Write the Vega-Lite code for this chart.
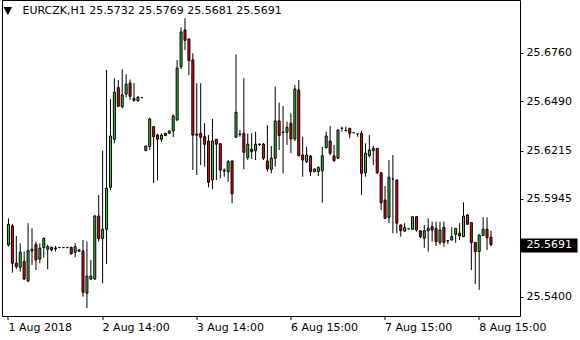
{
"$schema": "https://vega.github.io/schema/vega-lite/v6.json",
"width": 518, "height": 316,
"autosize": "none",
"padding": {"left": 2, "top": 0, "right": 60, "bottom": 24},
"background": "white",
"config": {"view": {"stroke": "black", "strokeWidth": 1}},
"title": {"text": "▼\u00a0\u00a0\u00a0EURCZK,H1\u00a025.5732 25.5769 25.5681 25.5691", "anchor": "start", "frame": "group", "orient": "top", "offset": 0, "dy": 25, "dx": 1.5, "baseline": "alphabetic", "font": "DejaVu Sans", "fontSize": 11, "fontWeight": "normal", "color": "black"},
"data": {"values": [
{"i":0,"o":25.5689,"h":25.5837,"l":25.5679,"c":25.5804},
{"i":1,"o":25.5795,"h":25.5806,"l":25.5534,"c":25.5587},
{"i":2,"o":25.5587,"h":25.5739,"l":25.5555,"c":25.5568},
{"i":3,"o":25.5564,"h":25.5698,"l":25.5540,"c":25.5648},
{"i":4,"o":25.5596,"h":25.5652,"l":25.5493,"c":25.5499},
{"i":5,"o":25.5487,"h":25.5810,"l":25.5484,"c":25.5657},
{"i":6,"o":25.5655,"h":25.5781,"l":25.5577,"c":25.5665},
{"i":7,"o":25.5692,"h":25.5707,"l":25.5549,"c":25.5605},
{"i":8,"o":25.5610,"h":25.5698,"l":25.5587,"c":25.5670},
{"i":9,"o":25.5674,"h":25.5731,"l":25.5618,"c":25.5725},
{"i":10,"o":25.5665,"h":25.5689,"l":25.5553,"c":25.5679},
{"i":11,"o":25.5676,"h":25.5678,"l":25.5652,"c":25.5661},
{"i":12,"o":25.5667,"h":25.5683,"l":25.5652,"c":25.5672},
{"i":13,"o":25.5674,"h":25.5674,"l":25.5674,"c":25.5674},
{"i":14,"o":25.5674,"h":25.5674,"l":25.5674,"c":25.5674},
{"i":15,"o":25.5674,"h":25.5674,"l":25.5674,"c":25.5674},
{"i":16,"o":25.5676,"h":25.5678,"l":25.5636,"c":25.5639},
{"i":17,"o":25.5648,"h":25.5698,"l":25.5620,"c":25.5679},
{"i":18,"o":25.5654,"h":25.5667,"l":25.5650,"c":25.5661},
{"i":19,"o":25.5655,"h":25.5716,"l":25.5400,"c":25.5425},
{"i":20,"o":25.5420,"h":25.5707,"l":25.5336,"c":25.5515},
{"i":21,"o":25.5499,"h":25.5605,"l":25.5493,"c":25.5515},
{"i":22,"o":25.5499,"h":25.5856,"l":25.5493,"c":25.5850},
{"i":23,"o":25.5850,"h":25.5967,"l":25.5707,"c":25.5725},
{"i":24,"o":25.5725,"h":25.6214,"l":25.5475,"c":25.5776},
{"i":25,"o":25.5776,"h":25.6664,"l":25.5583,"c":25.6005},
{"i":26,"o":25.6010,"h":25.6502,"l":25.5995,"c":25.6296},
{"i":27,"o":25.6278,"h":25.6618,"l":25.6255,"c":25.6540},
{"i":28,"o":25.6567,"h":25.6608,"l":25.6458,"c":25.6462},
{"i":29,"o":25.6460,"h":25.6668,"l":25.6450,"c":25.6525},
{"i":30,"o":25.6530,"h":25.6640,"l":25.6512,"c":25.6585},
{"i":31,"o":25.6591,"h":25.6611,"l":25.6497,"c":25.6517},
{"i":32,"o":25.6506,"h":25.6591,"l":25.6487,"c":25.6494},
{"i":33,"o":25.6493,"h":25.6519,"l":25.6487,"c":25.6512},
{"i":34,"o":25.6510,"h":25.6510,"l":25.6510,"c":25.6510},
{"i":35,"o":25.6214,"h":25.6243,"l":25.6212,"c":25.6240},
{"i":36,"o":25.6237,"h":25.6398,"l":25.6218,"c":25.6391},
{"i":37,"o":25.6348,"h":25.6352,"l":25.6034,"c":25.6292},
{"i":38,"o":25.6301,"h":25.6309,"l":25.6048,"c":25.6278},
{"i":39,"o":25.6278,"h":25.6311,"l":25.6264,"c":25.6301},
{"i":40,"o":25.6311,"h":25.6313,"l":25.6296,"c":25.6298},
{"i":41,"o":25.6311,"h":25.6327,"l":25.6310,"c":25.6324},
{"i":42,"o":25.6324,"h":25.6416,"l":25.6290,"c":25.6408},
{"i":43,"o":25.6385,"h":25.6720,"l":25.6380,"c":25.6675},
{"i":44,"o":25.6682,"h":25.6901,"l":25.6669,"c":25.6876},
{"i":45,"o":25.6887,"h":25.6952,"l":25.6775,"c":25.6829},
{"i":46,"o":25.6837,"h":25.6837,"l":25.6636,"c":25.6716},
{"i":47,"o":25.6720,"h":25.6757,"l":25.6106,"c":25.6301},
{"i":48,"o":25.6307,"h":25.6590,"l":25.6079,"c":25.6300},
{"i":49,"o":25.6311,"h":25.6590,"l":25.6134,"c":25.6289},
{"i":50,"o":25.6292,"h":25.6367,"l":25.6125,"c":25.6250},
{"i":51,"o":25.6268,"h":25.6301,"l":25.6010,"c":25.6038},
{"i":52,"o":25.6051,"h":25.6391,"l":25.5999,"c":25.6268},
{"i":53,"o":25.6278,"h":25.6279,"l":25.6051,"c":25.6250},
{"i":54,"o":25.6253,"h":25.6257,"l":25.6060,"c":25.6106},
{"i":55,"o":25.6105,"h":25.6116,"l":25.6069,"c":25.6101},
{"i":56,"o":25.6097,"h":25.6162,"l":25.6041,"c":25.6153},
{"i":57,"o":25.6157,"h":25.6159,"l":25.5921,"c":25.5973},
{"i":58,"o":25.6289,"h":25.6751,"l":25.6288,"c":25.6428},
{"i":59,"o":25.6307,"h":25.6329,"l":25.6292,"c":25.6304},
{"i":60,"o":25.6311,"h":25.6618,"l":25.6110,"c":25.6205},
{"i":61,"o":25.6175,"h":25.6311,"l":25.6162,"c":25.6250},
{"i":62,"o":25.6222,"h":25.6311,"l":25.6168,"c":25.6208},
{"i":63,"o":25.6214,"h":25.6320,"l":25.6162,"c":25.6250},
{"i":64,"o":25.6249,"h":25.6255,"l":25.6240,"c":25.6250},
{"i":65,"o":25.6251,"h":25.6257,"l":25.6162,"c":25.6172},
{"i":66,"o":25.6157,"h":25.6357,"l":25.6097,"c":25.6112},
{"i":67,"o":25.6110,"h":25.6240,"l":25.6088,"c":25.6172},
{"i":68,"o":25.6172,"h":25.6571,"l":25.6125,"c":25.6380},
{"i":69,"o":25.6380,"h":25.6482,"l":25.6218,"c":25.6298},
{"i":70,"o":25.6318,"h":25.6463,"l":25.6088,"c":25.6315},
{"i":71,"o":25.6317,"h":25.6376,"l":25.6246,"c":25.6344},
{"i":72,"o":25.6367,"h":25.6423,"l":25.6200,"c":25.6279},
{"i":73,"o":25.6279,"h":25.6580,"l":25.6268,"c":25.6558},
{"i":74,"o":25.6552,"h":25.6608,"l":25.6182,"c":25.6186},
{"i":75,"o":25.6190,"h":25.6292,"l":25.6069,"c":25.6162},
{"i":76,"o":25.6153,"h":25.6236,"l":25.6145,"c":25.6190},
{"i":77,"o":25.6184,"h":25.6190,"l":25.6073,"c":25.6097},
{"i":78,"o":25.6097,"h":25.6115,"l":25.6095,"c":25.6112},
{"i":79,"o":25.6097,"h":25.6126,"l":25.6073,"c":25.6121},
{"i":80,"o":25.6103,"h":25.6236,"l":25.5924,"c":25.6186},
{"i":81,"o":25.6231,"h":25.6320,"l":25.6227,"c":25.6296},
{"i":82,"o":25.6268,"h":25.6352,"l":25.6190,"c":25.6200},
{"i":83,"o":25.6184,"h":25.6246,"l":25.6153,"c":25.6158},
{"i":84,"o":25.6172,"h":25.6333,"l":25.6171,"c":25.6329},
{"i":85,"o":25.6338,"h":25.6348,"l":25.6320,"c":25.6339},
{"i":86,"o":25.6325,"h":25.6348,"l":25.6324,"c":25.6327},
{"i":87,"o":25.6339,"h":25.6341,"l":25.6283,"c":25.6311},
{"i":88,"o":25.6314,"h":25.6314,"l":25.6314,"c":25.6314},
{"i":89,"o":25.6307,"h":25.6308,"l":25.6292,"c":25.6307},
{"i":90,"o":25.6311,"h":25.6325,"l":25.5967,"c":25.6088},
{"i":91,"o":25.6091,"h":25.6255,"l":25.6069,"c":25.6200},
{"i":92,"o":25.6186,"h":25.6301,"l":25.6177,"c":25.6218},
{"i":93,"o":25.6214,"h":25.6240,"l":25.6134,"c":25.6227},
{"i":94,"o":25.6227,"h":25.6229,"l":25.6084,"c":25.6091},
{"i":95,"o":25.6091,"h":25.6095,"l":25.5883,"c":25.5924},
{"i":96,"o":25.5939,"h":25.6017,"l":25.5833,"c":25.5837},
{"i":97,"o":25.5843,"h":25.6162,"l":25.5810,"c":25.6066},
{"i":98,"o":25.6056,"h":25.6190,"l":25.5754,"c":25.6056},
{"i":99,"o":25.6051,"h":25.6053,"l":25.5754,"c":25.5810},
{"i":100,"o":25.5800,"h":25.5803,"l":25.5735,"c":25.5768},
{"i":101,"o":25.5766,"h":25.5810,"l":25.5763,"c":25.5785},
{"i":102,"o":25.5778,"h":25.5778,"l":25.5778,"c":25.5778},
{"i":103,"o":25.5776,"h":25.5847,"l":25.5775,"c":25.5846},
{"i":104,"o":25.5846,"h":25.5847,"l":25.5763,"c":25.5772},
{"i":105,"o":25.5768,"h":25.5769,"l":25.5726,"c":25.5735},
{"i":106,"o":25.5726,"h":25.5800,"l":25.5672,"c":25.5768},
{"i":107,"o":25.5768,"h":25.5837,"l":25.5652,"c":25.5781},
{"i":108,"o":25.5790,"h":25.5818,"l":25.5707,"c":25.5772},
{"i":109,"o":25.5781,"h":25.5818,"l":25.5683,"c":25.5707},
{"i":110,"o":25.5703,"h":25.5818,"l":25.5689,"c":25.5772},
{"i":111,"o":25.5787,"h":25.5818,"l":25.5679,"c":25.5703},
{"i":112,"o":25.5713,"h":25.5714,"l":25.5694,"c":25.5712},
{"i":113,"o":25.5716,"h":25.5787,"l":25.5714,"c":25.5735},
{"i":114,"o":25.5748,"h":25.5783,"l":25.5701,"c":25.5781},
{"i":115,"o":25.5754,"h":25.5810,"l":25.5716,"c":25.5739},
{"i":116,"o":25.5735,"h":25.5926,"l":25.5733,"c":25.5850},
{"i":117,"o":25.5856,"h":25.5859,"l":25.5803,"c":25.5804},
{"i":118,"o":25.5813,"h":25.5814,"l":25.5549,"c":25.5701},
{"i":119,"o":25.5703,"h":25.5705,"l":25.5471,"c":25.5652},
{"i":120,"o":25.5652,"h":25.5747,"l":25.5438,"c":25.5744},
{"i":121,"o":25.5741,"h":25.5843,"l":25.5739,"c":25.5776},
{"i":122,"o":25.5776,"h":25.5843,"l":25.5661,"c":25.5729},
{"i":123,"o":25.5732,"h":25.5769,"l":25.5681,"c":25.5691}
]},
"layer": [
{"mark": {"type": "rule", "color": "black", "strokeWidth": 1},
 "encoding": {
  "x": {"field": "i", "type": "quantitative", "scale": {"domain": [-0.375, 129.125], "nice": false, "zero": false},
        "axis": {"orient": "bottom", "values": [0, 24, 48, 72, 96, 120], "labelExpr": "datum.value < 10 ? '1 Aug 2018' : datum.value < 30 ? '2 Aug 14:00' : datum.value < 60 ? '3 Aug 14:00' : datum.value < 80 ? '6 Aug 15:00' : datum.value < 100 ? '7 Aug 15:00' : '8 Aug 15:00'", "domain": false, "grid": false, "ticks": true, "tickSize": 4, "tickColor": "black", "tickWidth": 1, "translate": 0, "labelAlign": "left", "labelBaseline": "alphabetic", "labelPadding": 11, "labelFont": "DejaVu Sans", "labelFontSize": 11, "labelColor": "black", "labelFlush": false, "labelOverlap": false, "title": null}},
  "y": {"field": "l", "type": "quantitative", "scale": {"domain": [25.52926, 25.7054], "nice": false, "zero": false},
        "axis": {"orient": "right", "values": [25.54, 25.5945, 25.6215, 25.649, 25.676], "format": ".4f", "domain": false, "grid": false, "ticks": true, "tickSize": 3, "tickColor": "black", "tickWidth": 1, "translate": 0.5, "labelPadding": 3, "labelFont": "DejaVu Sans", "labelFontSize": 11, "labelColor": "black", "labelBaseline": "middle", "labelFlush": false, "labelOverlap": false, "title": null}},
  "y2": {"field": "h"}
 }},
{"mark": {"type": "bar", "orient": "vertical", "width": 2, "stroke": "black", "strokeWidth": 1},
 "encoding": {
  "x": {"field": "i", "type": "quantitative"},
  "y": {"field": "o", "type": "quantitative", "axis": null},
  "y2": {"field": "c"},
  "fill": {"condition": {"test": "datum.c > datum.o", "value": "#33cc33"}, "value": "#ff0000"}
 }},
{"data": {"values": [{"price": 25.5691}]},
 "mark": {"type": "tick", "opacity": 0},
 "encoding": {
  "y": {"field": "price", "type": "quantitative",
        "axis": {"orient": "right", "values": [25.5691], "format": ".4f", "domain": false, "grid": false, "ticks": true, "tickSize": 57, "tickWidth": 14, "tickCap": "butt", "tickColor": "black", "translate": 0.5, "labelPadding": -51, "labelFont": "DejaVu Sans", "labelFontSize": 11, "labelColor": "white", "labelBaseline": "middle", "labelFlush": false, "labelOverlap": false, "title": null}}
 }}
],
"resolve": {"axis": {"y": "independent"}}
}
